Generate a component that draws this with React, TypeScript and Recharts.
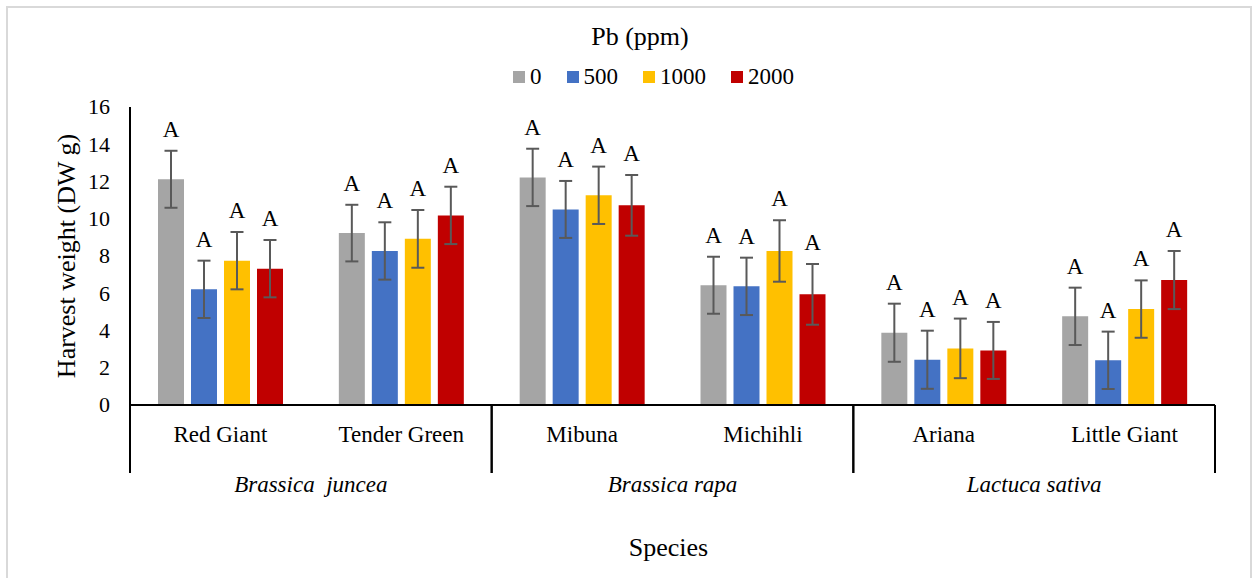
import React from 'react';
import { BarChart, Bar, XAxis, YAxis, ErrorBar, LabelList, Legend } from 'recharts';

const species = ['Red Giant', 'Tender Green', 'Mibuna', 'Michihli', 'Ariana', 'Little Giant'];
const speciesGroups = ['Brassica  juncea', 'Brassica rapa', 'Lactuca sativa'];
const pbLevels = ['0', '500', '1000', '2000'];

// harvest weight (DW g) per Pb level, same order as species
const weight0 = [12.12, 9.23, 12.22, 6.43, 3.88, 4.76];
const weight500 = [6.21, 8.27, 10.5, 6.37, 2.43, 2.4];
const weight1000 = [7.75, 8.92, 11.26, 8.27, 3.04, 5.15];
const weight2000 = [7.32, 10.18, 10.72, 5.94, 2.93, 6.71];

// error bar half-lengths
const err0 = [1.53, 1.52, 1.54, 1.53, 1.56, 1.54];
const err500 = [1.54, 1.54, 1.53, 1.54, 1.56, 1.54];
const err1000 = [1.54, 1.55, 1.54, 1.65, 1.6, 1.54];
const err2000 = [1.54, 1.54, 1.63, 1.63, 1.53, 1.56];

// significance letters
const letters0 = ['A', 'A', 'A', 'A', 'A', 'A'];
const letters500 = ['A', 'A', 'A', 'A', 'A', 'A'];
const letters1000 = ['A', 'A', 'A', 'A', 'A', 'A'];
const letters2000 = ['A', 'A', 'A', 'A', 'A', 'A'];

const yTicks = [0, 2, 4, 6, 8, 10, 12, 14, 16];

const pbColors = ['#A5A5A5', '#4472C4', '#FFC000', '#C00000'];
const FONT = "'Liberation Serif', 'Times New Roman', serif";

const series = [
  { key: 'pb0', values: weight0, errors: err0, letters: letters0 },
  { key: 'pb500', values: weight500, errors: err500, letters: letters500 },
  { key: 'pb1000', values: weight1000, errors: err1000, letters: letters1000 },
  { key: 'pb2000', values: weight2000, errors: err2000, letters: letters2000 },
];

const chartData = species.map((name, i) => {
  const row: Record<string, string | number> = { name };
  series.forEach(s => {
    row[s.key] = s.values[i];
    row[s.key + 'Err'] = s.errors[i];
  });
  return row;
});

const txt = { fontFamily: FONT, fill: '#000' };

const SpeciesTick = (props: any) => {
  const { x, y, payload, index } = props;
  const half = payload && typeof payload.offset === 'number' && payload.offset > 0 ? payload.offset : 90.4;
  const isFirst = index % 2 === 0;
  return (
    <g>
      <text x={x} y={y + 37} textAnchor="middle" fontSize={23} style={txt}>
        {payload.value}
      </text>
      {isFirst ? (
        <line x1={x - half} x2={x - half} y1={y} y2={y + 68} stroke="#000" strokeWidth={2} />
      ) : (
        <>
          <line x1={x + half} x2={x + half} y1={y} y2={y + 68} stroke="#000" strokeWidth={2} />
          <text
            x={x - half}
            y={y + 87}
            textAnchor="middle"
            fontSize={23}
            fontStyle="italic"
            style={{ ...txt, whiteSpace: 'pre' }}
          >
            {speciesGroups[(index - 1) / 2]}
          </text>
        </>
      )}
    </g>
  );
};

const WeightTick = (props: any) => {
  const { x, y, payload } = props;
  return (
    <text x={x} y={y} dy="0.34em" textAnchor="end" fontSize={22} style={txt}>
      {payload.value}
    </text>
  );
};

const YTitle = (props: any) => {
  const vb = props.viewBox || { x: 0, y: 107, width: 130, height: 298 };
  const cx = 66;
  const cy = vb.y + vb.height / 2;
  return (
    <text
      x={cx}
      y={cy}
      transform={`rotate(-90, ${cx}, ${cy})`}
      textAnchor="middle"
      dominantBaseline="central"
      fontSize={26}
      style={txt}
    >
      Harvest weight (DW g)
    </text>
  );
};

const XTitle = (props: any) => {
  const vb = props.viewBox || { x: 130, y: 405, width: 1085, height: 173 };
  return (
    <text x={vb.x + vb.width / 2 - 4} y={vb.y + 151} textAnchor="middle" fontSize={26} style={txt}>
      Species
    </text>
  );
};

const makeLetter = (s: typeof series[number]) => (props: any) => {
  const box = props.viewBox && typeof props.viewBox.height === 'number' ? props.viewBox : props;
  const { x, y, width, height } = box;
  const i = props.index;
  const v = s.values[i];
  if (!v) return null;
  const ppu = height / v;
  const errTop = y - s.errors[i] * ppu;
  return (
    <text x={x + width / 2} y={errTop - 14} textAnchor="middle" fontSize={23} style={txt}>
      {s.letters[i]}
    </text>
  );
};

const PbLegend = () => (
  <div style={{ position: 'relative', height: 95, fontFamily: FONT, color: '#000' }}>
    <div style={{ position: 'absolute', left: 0, top: 22, width: 1280, textAlign: 'center', fontSize: 26, lineHeight: '30px' }}>
      Pb (ppm)
    </div>
    <div
      style={{
        position: 'absolute',
        left: 0,
        top: 64,
        width: 1307,
        display: 'flex',
        justifyContent: 'center',
        fontSize: 23,
        lineHeight: '26px',
        fontFamily: FONT,
      }}
    >
      {pbLevels.map((lvl, i) => (
        <span key={lvl} style={{ display: 'flex', alignItems: 'center', marginRight: i < pbLevels.length - 1 ? 25 : 0 }}>
          <span style={{ display: 'inline-block', width: 12, height: 12, background: pbColors[i], marginRight: 5 }} />
          {lvl}
        </span>
      ))}
    </div>
  </div>
);

export default function App() {
  return (
    <div
      style={{
        position: 'absolute',
        left: 0,
        top: 0,
        width: 1260,
        height: 578,
        overflow: 'hidden',
        background: '#fff',
        fontFamily: FONT,
      }}
    >
      <div
        style={{
          position: 'absolute',
          left: 6,
          top: 6,
          width: 1246,
          height: 600,
          border: '2px solid #d9d9d9',
          boxSizing: 'border-box',
        }}
      />
      <div style={{ position: 'absolute', left: 0, top: 0 }}>
        <BarChart
          width={1260}
          height={578}
          data={chartData}
          margin={{ top: 107, right: 45, bottom: 0, left: 0 }}
          barGap={7}
          barSize={26}
          style={{ fontFamily: FONT }}
        >
          <XAxis
            dataKey="name"
            height={173}
            interval={0}
            tickLine={false}
            tickSize={0}
            tickMargin={0}
            axisLine={{ stroke: '#000', strokeWidth: 2 }}
            tick={<SpeciesTick />}
            label={<XTitle />}
          />
          <YAxis
            width={130}
            domain={[0, 16]}
            ticks={yTicks}
            interval={0}
            tickLine={false}
            tickSize={0}
            tickMargin={20}
            axisLine={{ stroke: '#000', strokeWidth: 2 }}
            tick={<WeightTick />}
            label={<YTitle />}
          />
          <Legend
            layout="horizontal"
            verticalAlign="middle"
            align="center"
            content={<PbLegend />}
            wrapperStyle={{ top: 0, left: 0, width: 1260 }}
          />
          {series.map((s, i) => (
            <Bar key={s.key} dataKey={s.key} name={pbLevels[i]} fill={pbColors[i]} isAnimationActive={false}>
              <ErrorBar dataKey={s.key + 'Err'} direction="y" width={6.5} stroke="#595959" strokeWidth={2} isAnimationActive={false} />
              <LabelList dataKey={s.key} content={makeLetter(s)} />
            </Bar>
          ))}
        </BarChart>
      </div>
    </div>
  );
}
